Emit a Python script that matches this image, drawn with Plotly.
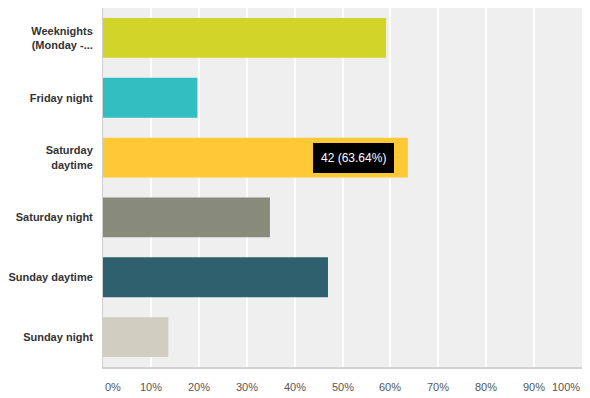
import plotly.graph_objects as go

categories = ["Weeknights<br>(Monday -...", "Friday night", "Saturday<br>daytime",
              "Saturday night", "Sunday daytime", "Sunday night"]
counts = [39, 13, 42, 23, 31, 9]
total = 66
percents = [c / total * 100 for c in counts]
colors = ["#d1d52a", "#33bec1", "#ffc835", "#888a7a", "#2f606d", "#d0cec0"]
tick_vals = [0, 10, 20, 30, 40, 50, 60, 70, 80, 90, 100]
tick_text = ["0%", "10%", "20%", "30%", "40%", "50%", "60%", "70%", "80%", "90%", "100%"]
tooltip_index = 2

fig = go.Figure()
fig.add_trace(go.Bar(
    x=percents, y=categories, orientation="h",
    marker=dict(color=colors, line=dict(width=0)),
    hoverinfo="skip",
))

fig.update_layout(
    width=590, height=398,
    margin=dict(l=103, r=8, t=8, b=31),
    paper_bgcolor="white", plot_bgcolor="#efefef",
    bargap=0.333, showlegend=False,
    font=dict(family="Liberation Sans, Arial, sans-serif"),
)
fig.update_xaxes(
    range=[0, 100], tickvals=tick_vals, showticklabels=False,
    showgrid=True, gridcolor="white", gridwidth=1.5, zeroline=False,
    showline=True, linecolor="#d2d2d2", linewidth=2, fixedrange=True,
)
fig.update_yaxes(
    autorange="reversed", showgrid=False, zeroline=False,
    showline=True, linecolor="#cfcfcf", linewidth=1,
    tickfont=dict(size=11, color="#333333", family="Liberation Sans, Arial, sans-serif", weight="bold"),
    ticks="", ticklabelstandoff=7,
)

for v, t in zip(tick_vals, tick_text):
    anchor = "left" if v == 0 else ("right" if v == 100 else "center")
    fig.add_annotation(
        x=v, y=0, xref="x", yref="paper", yanchor="top", yshift=-12,
        xanchor=anchor, text=t, showarrow=False,
        font=dict(size=11, color="rgb(85,85,85)"),
    )

fig.add_annotation(
    x=percents[tooltip_index] - 2.9, y=categories[tooltip_index],
    xanchor="right", yanchor="middle",
    text=f"{counts[tooltip_index]} ({percents[tooltip_index]:.2f}%)",
    showarrow=False, bgcolor="black", borderpad=8, borderwidth=0,
    font=dict(size=12, color="white"),
)

fig.write_html("out.html")
